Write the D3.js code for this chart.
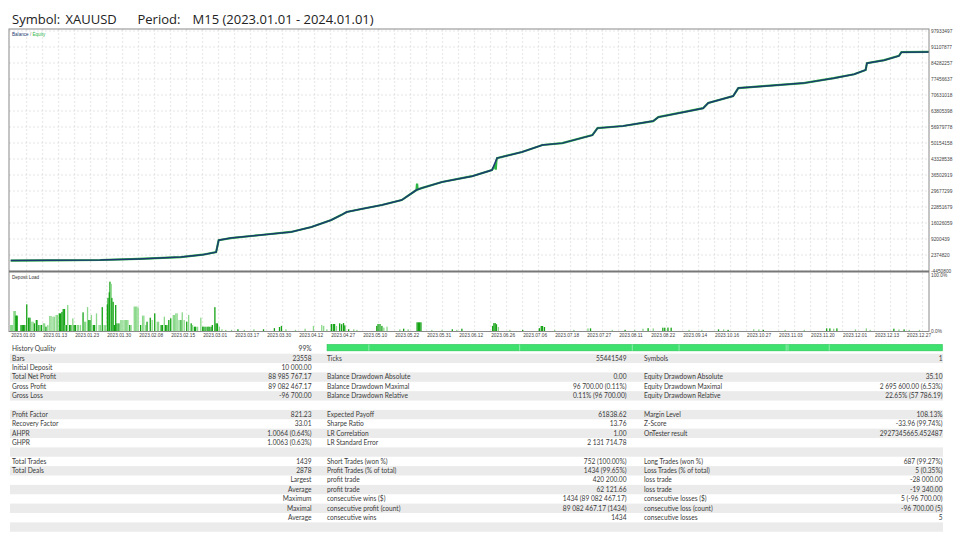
<!DOCTYPE html>
<html><head><meta charset="utf-8">
<script src="https://cdn.jsdelivr.net/npm/d3@7"></script>
<style>
body{margin:0;background:#fff;}
svg{display:block;}
</style></head>
<body>
<svg id="c" width="960" height="540"></svg>
<script>
// ---------- DATA ----------
const titleSymbol = "XAUUSD";
const titlePeriod = "M15 (2023.01.01 - 2024.01.01)";
const yTicks = [97933497, 91107877, 84282257, 77456637, 70631018, 63805398, 56979778, 50154158,
  43328538, 36502919, 29677299, 22851679, 16026059, 9200439, 2374820, -4450800];
const dateLabels = ["2023.01.03","2023.01.13","2023.01.23","2023.01.30","2023.02.08","2023.02.15","2023.03.01",
  "2023.03.17","2023.03.30","2023.04.12","2023.04.27","2023.05.10","2023.05.22","2023.05.31","2023.06.12",
  "2023.06.26","2023.07.06","2023.07.18","2023.07.27","2023.08.11","2023.08.22","2023.09.14","2023.10.16",
  "2023.10.27","2023.11.03","2023.11.20","2023.12.01","2023.12.13","2023.12.27"];
const dateLabelTrade = d3.range(0, 1401, 50);
const balIdx = [0,60,140,200,266,300,321,325,344,391,438,470,501,517,525,548,580,611,634,642,674,721,752,760,
  799,831,862,909,917,957,1004,1012,1051,1082,1090,1129,1137,1176,1239,1286,1318,1336,1338,1365,1388,1392,1435];
const balVal = [10000,120000,240000,700000,1500000,2500000,3600000,8700000,9600000,10900000,12200000,14300000,
  17300000,19500000,20700000,22000000,23700000,25800000,30100000,30900000,33500000,36000000,38600000,43700000,
  46300000,49300000,50100000,53500000,56500000,57400000,59500000,61200000,63300000,65000000,67200000,70200000,
  73600000,74400000,75700000,77800000,79500000,81300000,84200000,85500000,87300000,88900000,88995767];
const eqIdx = [634,635,636,757,758,759];
const eqVal = [30100000,32800000,30300000,40500000,38800000,42500000];
const loadIdx = [0,1,2,3,5,6,7,8,9,10,16,18,20,22,25,28,30,33,35,37,40,41,44,46,48,51,53,55,58,61,63,66,68,71,73,
  76,78,80,82,84,85,87,89,92,94,97,99,101,104,106,109,113,115,117,120,122,124,126,129,131,134,138,140,143,146,148,
  151,152,154,155,157,158,160,162,164,166,169,172,174,177,179,181,183,186,188,193,195,197,199,203,206,208,211,213,
  218,221,225,229,231,235,237,240,242,244,247,250,254,256,258,260,263,266,268,271,275,278,282,284,287,289,292,297,
  300,302,305,308,310,313,315,319,321,323,326,
  330,336,345,355,365,380,395,412,420,423,430,445,460,473,486,489,494,501,504,506,509,514,517,520,522,528,536,541,
  572,574,577,580,583,588,608,614,621,635,637,639,641,658,674,690,697,705,753,755,757,759,762,780,800,826,829,831,
  834,850,880,902,906,940,960,975,988,996,1004,1019,1022,1027,1032,1060,1080,1106,1114,1121,1161,1169,1176,1210,
  1240,1275,1280,1286,1291,1320,1337,1343,1380,1388,1396,1404,1420];
const loadPct = [11.6,11.6,11.6,11.6,36.6,36.6,36.6,28.3,28.3,28.3,11.6,11.6,11.6,11.6,48.5,24.7,24.7,17.5,17.5,
  14.6,20.5,20.5,11.6,11.6,11.6,14.6,14.6,8.6,11.6,27.7,27.7,26.5,26.5,29.5,29.5,32.4,32.4,35,40.2,40.2,11.6,11.6,
  47.3,11.6,11.6,23.5,11.6,11.6,11.6,11.6,11.6,34.2,17.5,17.5,43.5,20.5,20.5,29.5,11.6,11.6,32.4,11.6,11.6,43.5,
  11.6,11.6,48.5,60,70,89,85,60,53,11.6,47.3,14.6,14.6,20.5,20.5,20.5,20.5,20.5,20.5,11.6,11.6,44.6,44.6,44.6,
  42.9,11.6,28.3,28.3,11.6,17.5,24.7,20.5,32.4,17.5,17.5,11.6,11.6,26.5,11.6,11.6,20.5,23.5,29.5,29.5,32.4,32.4,
  20.5,20.5,34.2,20.5,17.5,29.5,14.6,11.6,8.6,8.6,8.6,24.7,8.6,8.6,8.6,8.6,8.6,8.6,11.6,43.5,14.6,14.6,8.6,
  4,3,3,4,3,4,4,6,8,10,4,3,5,10,11.6,10,4,13.4,13.4,13.4,9.8,14.6,13,15,11,4,4,3,
  10,13.4,13.4,10,7,8.6,4,5,4,16.4,16.4,16.4,16.4,3,3,4,3,5,10,15,15,13,8,3,3,6,9.8,9.8,
  8,3,3,5.6,5.6,3,3,3,5,6,5.6,6.8,6.8,7,6.8,3,3,3.8,3.8,3,4,3.8,3,3,
  3,5.6,5.6,5,5.6,3.8,5.6,3,5,3.8,3.8,3,3];
const loadDark = [0,0,0,0,0,0,0,1,1,1,1,1,1,1,1,1,1,0,0,1,1,1,1,0,1,0,0,1,0,0,0,0,0,0,0,1,1,1,1,1,0,1,0,1,1,0,1,1,
  0,0,0,1,0,0,0,1,1,0,1,1,0,0,0,1,0,0,1,1,1,1,0,1,1,1,1,1,1,0,0,0,0,0,0,1,0,0,0,0,0,1,0,0,0,1,1,0,1,0,0,1,1,0,
  1,1,1,1,0,0,0,0,0,1,0,0,1,0,1,0,1,1,0,0,1,1,1,1,1,1,1,1,1,1,0,
  0,0,0,1,0,0,1,1,1,1,0,0,0,0,0,0,0,1,1,1,0,1,1,1,1,1,0,0,
  1,1,1,1,0,0,0,1,0,1,1,1,1,0,0,1,0,1,1,1,1,1,0,0,1,1,1,1,
  1,0,0,0,1,0,1,0,0,1,0,1,1,1,1,0,0,1,0,1,0,0,1,0,
  0,1,1,0,1,0,0,0,1,0,1,0,0];
const qualityMarks = [0.068, 0.313, 0.496, 0.572, 0.746, 0.749, 0.816];
const rowsCol1 = [["History Quality","99%"],["Bars","23558"],["Initial Deposit","10 000.00"],
  ["Total Net Profit","88 985 767.17"],["Gross Profit","89 082 467.17"],["Gross Loss","-96 700.00"],["",""],
  ["Profit Factor","821.23"],["Recovery Factor","33.01"],["AHPR","1.0064 (0.64%)"],["GHPR","1.0063 (0.63%)"],["",""],
  ["Total Trades","1439"],["Total Deals","2878"],["","Largest"],["","Average"],["","Maximum"],["","Maximal"],["","Average"],["",""]];
const rowsCol2 = [["",""],["Ticks","55441549"],["",""],["Balance Drawdown Absolute","0.00"],
  ["Balance Drawdown Maximal","96 700.00 (0.11%)"],["Balance Drawdown Relative","0.11% (96 700.00)"],["",""],
  ["Expected Payoff","61838.62"],["Sharpe Ratio","13.76"],["LR Correlation","1.00"],["LR Standard Error","2 131 714.78"],["",""],
  ["Short Trades (won %)","752 (100.00%)"],["Profit Trades (% of total)","1434 (99.65%)"],["profit trade","420 200.00"],
  ["profit trade","62 121.66"],["consecutive wins ($)","1434 (89 082 467.17)"],["consecutive profit (count)","89 082 467.17 (1434)"],
  ["consecutive wins","1434"],["",""]];
const rowsCol3 = [["",""],["Symbols","1"],["",""],["Equity Drawdown Absolute","35.10"],
  ["Equity Drawdown Maximal","2 695 600.00 (6.53%)"],["Equity Drawdown Relative","22.65% (57 786.19)"],["",""],
  ["Margin Level","108.13%"],["Z-Score","-33.96 (99.74%)"],["OnTester result","2927345665.452487"],["",""],["",""],
  ["Long Trades (won %)","687 (99.27%)"],["Loss Trades (% of total)","5 (0.35%)"],["loss trade","-28 000.00"],
  ["loss trade","-19 340.00"],["consecutive losses ($)","5 (-96 700.00)"],["consecutive loss (count)","-96 700.00 (5)"],
  ["consecutive losses","5"],["",""]];

// ---------- DRAW ----------
const svg = d3.select("#c");
const F = "'Open Sans', 'Noto Sans', sans-serif";
const TF = "Lato, 'Open Sans', sans-serif";
const small = "'Liberation Sans', Arial, sans-serif";

// title
const tt = [["Symbol:", 12], [titleSymbol, 65.5], ["Period:", 137.5], [titlePeriod, 192.5]];
tt.forEach(d => svg.append("text").attr("x", d[1]).attr("y", 24).attr("font-family", F)
  .attr("font-size", 13).attr("fill", "#222").text(d[0]));

const L = 9, R = 929, T = 29, MID = 271, B = 331.5;
const x = d3.scaleLinear().domain([0, 1435]).range([10.7, 929]);
const y = d3.scaleLinear().domain([-4450800, 97933497]).range([MID, 31]);
const yl = d3.scaleLinear().domain([0, 100]).range([B, 275.5]);

// grids
const g = svg.append("g");
yTicks.forEach(v => {
  g.append("line").attr("x1", L).attr("x2", R).attr("y1", y(v)).attr("y2", y(v))
    .attr("stroke", "#d4d4d4").attr("stroke-width", 0.6).attr("stroke-dasharray", "2,2");
});
d3.range(25, 1435, 25).forEach(i => {
  g.append("line").attr("x1", x(i)).attr("x2", x(i)).attr("y1", T).attr("y2", B)
    .attr("stroke", "#d4d4d4").attr("stroke-width", 0.6).attr("stroke-dasharray", "2,2");
});

// deposit load bars
loadIdx.forEach((d, i) => {
  svg.append("rect").attr("x", x(d) - 0.6).attr("width", 1.3)
    .attr("y", yl(loadPct[i])).attr("height", B - yl(loadPct[i]))
    .attr("fill", loadDark[i] ? "#14a314" : "#8ad88a");
});

// equity & balance
const balPts = balIdx.map((d, i) => [d, balVal[i]]);
const eqPts = balPts.filter(p => p[0] < 634)
  .concat(eqIdx.map((d, i) => [d, eqVal[i]]))
  .concat(balPts.filter(p => (p[0] > 636 && p[0] < 757) || p[0] > 759));
eqPts.sort((a, b) => a[0] - b[0]);
const line = d3.line().x(p => x(p[0])).y(p => y(p[1]));
svg.append("path").attr("d", line(eqPts)).attr("fill", "none").attr("stroke", "#2fb545").attr("stroke-width", 2.2);
svg.append("path").attr("d", line(balPts)).attr("fill", "none").attr("stroke", "#1b3a70").attr("stroke-width", 1.5);

// frames
svg.append("rect").attr("x", L).attr("y", T).attr("width", R - L).attr("height", B - T)
  .attr("fill", "none").attr("stroke", "#8a8a8a").attr("stroke-width", 1);
svg.append("line").attr("x1", L).attr("x2", R).attr("y1", MID + 0.5).attr("y2", MID + 0.5)
  .attr("stroke", "#777").attr("stroke-width", 2.2);

// legends
const lg = svg.append("text").attr("x", 12).attr("y", 35.5).attr("font-family", small).attr("font-size", 4.6);
lg.append("tspan").attr("fill", "#1b3a70").text("Balance");
lg.append("tspan").attr("fill", "#777").text(" / ");
lg.append("tspan").attr("fill", "#2fb545").text("Equity");
svg.append("text").attr("x", 12).attr("y", 278.5).attr("font-family", small).attr("font-size", 4.6)
  .attr("fill", "#333").text("Deposit Load");

// right axis labels
yTicks.forEach(v => {
  svg.append("text").attr("x", 931).attr("y", y(v) + 1.6).attr("font-family", small).attr("font-size", 4.8)
    .attr("fill", "#444").text(v);
});
svg.append("text").attr("x", 931).attr("y", 277.3).attr("font-family", small).attr("font-size", 4.8).attr("fill", "#444").text("100.0%");
svg.append("text").attr("x", 931).attr("y", 333.3).attr("font-family", small).attr("font-size", 4.8).attr("fill", "#444").text("0.0%");

// date labels
dateLabels.forEach((d, i) => {
  svg.append("text").attr("x", x(dateLabelTrade[i]) + 0.5).attr("y", 337).attr("font-family", small)
    .attr("font-size", 4.8).attr("fill", "#444").text(d);
});

// table
const r0 = 349, rh = 9.37;
const tb = svg.append("g").attr("font-family", TF).attr("font-size", 6.6).attr("fill", "#3a3a3a");
rowsCol1.forEach((r, i) => {
  const cy = r0 + i * rh;
  if (i % 2 === 1) tb.append("rect").attr("x", 10).attr("y", cy - rh / 2).attr("width", 933).attr("height", rh).attr("fill", "#ebebeb");
});
// history quality bar
svg.append("rect").attr("x", 327).attr("y", 344.3).attr("width", 615.5).attr("height", 6.6)
  .attr("fill", "#3ee06e").attr("stroke", "#2fbf58").attr("stroke-width", 0.5);
qualityMarks.forEach(q => {
  svg.append("line").attr("x1", 327 + q * 615.5).attr("x2", 327 + q * 615.5).attr("y1", 344.5).attr("y2", 350.7)
    .attr("stroke", "#b8f0c8").attr("stroke-width", 0.7);
});
function cols(rows, lx, rx) {
  rows.forEach((r, i) => {
    const cy = r0 + i * rh + 2.3;
    if (r[0]) tb.append("text").attr("x", lx).attr("y", cy).text(r[0]);
    if (r[1]) tb.append("text").attr("x", rx).attr("y", cy).attr("text-anchor", "end").text(r[1]);
  });
}
cols(rowsCol1, 12, 311.5);
cols(rowsCol2, 327, 626.5);
cols(rowsCol3, 644, 942.5);
</script>
</body></html>
